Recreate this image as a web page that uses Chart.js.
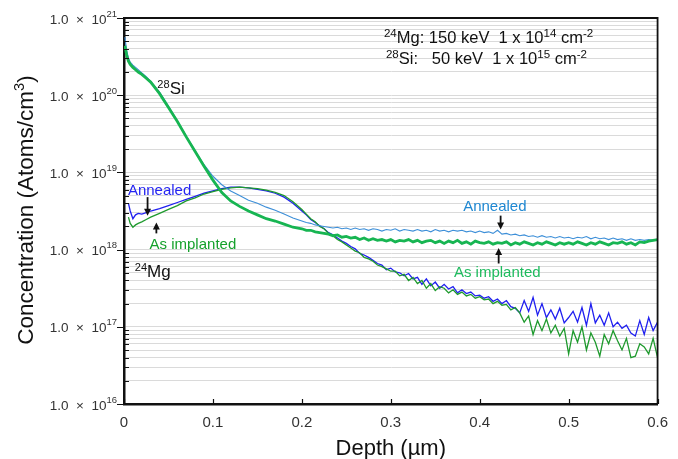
<!DOCTYPE html>
<html>
<head>
<meta charset="utf-8">
<script src="https://cdn.jsdelivr.net/npm/chart.js@4.4.1/dist/chart.umd.min.js"></script>
<style>
  body { margin: 0; background: #fff; }
  canvas { display: block; }
</style>
</head>
<body>
<canvas id="sims" width="678" height="459"></canvas>
<script>
// depth (um)
var depth = [0.001, 0.003, 0.005, 0.007, 0.010, 0.013, 0.016, 0.020, 0.025,
  0.03, 0.04, 0.05, 0.06, 0.07, 0.08, 0.09, 0.10, 0.11, 0.12, 0.13, 0.14, 0.15, 0.16, 0.17, 0.18, 0.19, 0.20,
  0.205, 0.21, 0.215, 0.22, 0.225, 0.23, 0.235, 0.24, 0.245, 0.25,
  0.255, 0.26, 0.265, 0.27, 0.275, 0.28, 0.285, 0.29, 0.295, 0.30,
  0.305, 0.31, 0.315, 0.32, 0.325, 0.33, 0.335, 0.34, 0.345, 0.35,
  0.355, 0.36, 0.365, 0.37, 0.375, 0.38, 0.385, 0.39, 0.395, 0.40,
  0.405, 0.41, 0.415, 0.42, 0.425, 0.43, 0.435, 0.44, 0.445, 0.45,
  0.455, 0.46, 0.465, 0.47, 0.475, 0.48, 0.485, 0.49, 0.495, 0.50,
  0.505, 0.51, 0.515, 0.52, 0.525, 0.53, 0.535, 0.54, 0.545, 0.55,
  0.555, 0.56, 0.565, 0.57, 0.575, 0.58, 0.585, 0.59, 0.595, 0.60];

// log10 of concentration (atoms/cm3)
var siImplLog = [20.64, 20.52, 20.44, 20.40, 20.36, 20.33, 20.30, 20.27, 20.22,
  20.17, 20.02, 19.84, 19.66, 19.46, 19.27, 19.08, 18.90, 18.74, 18.63, 18.56, 18.50, 18.45, 18.40, 18.37, 18.33, 18.29, 18.27,
  18.25, 18.25, 18.23, 18.22, 18.21, 18.20, 18.18, 18.19, 18.16, 18.17,
  18.15, 18.16, 18.13, 18.15, 18.12, 18.14, 18.12, 18.13, 18.11, 18.13,
  18.10, 18.12, 18.11, 18.13, 18.10, 18.12, 18.09, 18.11, 18.12, 18.09,
  18.11, 18.08, 18.11, 18.09, 18.12, 18.08, 18.10, 18.07, 18.11, 18.09,
  18.08, 18.10, 18.07, 18.09, 18.08, 18.10, 18.06, 18.09, 18.07, 18.10,
  18.08, 18.06, 18.09, 18.07, 18.10, 18.08, 18.06, 18.09, 18.07, 18.09,
  18.07, 18.10, 18.08, 18.06, 18.09, 18.07, 18.10, 18.08, 18.06, 18.09,
  18.08, 18.10, 18.07, 18.09, 18.06, 18.10, 18.09, 18.11, 18.12, 18.13];

var siAnnLog = [20.75, 20.58, 20.48, 20.43, 20.39, 20.36, 20.33, 20.29, 20.24,
  20.18, 20.04, 19.86, 19.67, 19.47, 19.28, 19.10, 18.95, 18.84, 18.76, 18.70, 18.64, 18.60, 18.55, 18.51, 18.46, 18.41, 18.37,
  18.35, 18.34, 18.32, 18.31, 18.30, 18.29, 18.28, 18.29, 18.27, 18.28,
  18.26, 18.28, 18.26, 18.27, 18.25, 18.27, 18.26, 18.24, 18.26, 18.25,
  18.27, 18.24, 18.26, 18.25, 18.24, 18.26, 18.24, 18.25, 18.23, 18.26,
  18.24, 18.25, 18.23, 18.25, 18.24, 18.25, 18.23, 18.24, 18.22, 18.24,
  18.22, 18.23, 18.21, 18.25, 18.20, 18.21, 18.19, 18.20, 18.18, 18.19,
  18.17, 18.18, 18.16, 18.18, 18.16, 18.17, 18.15, 18.17, 18.15, 18.16,
  18.14, 18.16, 18.15, 18.17, 18.14, 18.16, 18.14, 18.15, 18.13, 18.15,
  18.13, 18.14, 18.12, 18.14, 18.12, 18.13, 18.12, 18.13, 18.12, 18.13];

var mgAnnLog = [null, null, 18.60, 18.50, 18.40, 18.45, 18.47, 18.46, 18.48,
  18.50, 18.53, 18.57, 18.61, 18.65, 18.69, 18.73, 18.76, 18.79, 18.81, 18.81, 18.80, 18.78, 18.76, 18.73, 18.68, 18.60, 18.50,
  18.45, 18.39, 18.35, 18.31, 18.27, 18.22, 18.19, 18.15, 18.11, 18.08,
  18.04, 18.01, 17.95, 17.93, 17.90, 17.86, 17.82, 17.80, 17.74, 17.76,
  17.71, 17.70, 17.66, 17.69, 17.62, 17.64, 17.55, 17.62, 17.53, 17.58,
  17.50, 17.55, 17.49, 17.52, 17.44, 17.48, 17.43, 17.45, 17.40, 17.41,
  17.37, 17.39, 17.33, 17.36, 17.30, 17.34, 17.26, 17.24, 17.18, 17.34,
  17.20, 17.38, 17.15, 17.30, 17.12, 17.22, 17.10, 17.24, 17.05, 17.12,
  17.20, 17.06, 17.25, 17.02, 17.30, 17.05, 17.15, 17.02, 17.18, 17.00,
  17.06, 16.98, 17.02, 16.92, 16.88, 17.08, 16.90, 17.12, 16.95, 17.06];

var mgImplLog = [null, null, 18.42, 18.34, 18.29, 18.32, 18.34, 18.36, 18.39,
  18.42, 18.47, 18.52, 18.57, 18.63, 18.67, 18.72, 18.75, 18.78, 18.80, 18.81, 18.80, 18.79, 18.77, 18.74, 18.70, 18.62, 18.52,
  18.46, 18.40, 18.36, 18.30, 18.27, 18.21, 18.18, 18.13, 18.10, 18.06,
  18.02, 17.98, 17.96, 17.90, 17.88, 17.85, 17.80, 17.78, 17.75, 17.72,
  17.72, 17.66, 17.68, 17.60, 17.64, 17.56, 17.60, 17.50, 17.56, 17.47,
  17.52, 17.50, 17.44, 17.48, 17.42, 17.45, 17.40, 17.42, 17.37, 17.39,
  17.35, 17.36, 17.30, 17.33, 17.28, 17.29, 17.22, 17.25, 17.18, 17.06,
  17.14, 16.90, 17.08, 16.95, 17.10, 16.92, 17.02, 16.88, 16.98, 16.65,
  16.95, 16.80, 17.00, 16.70, 16.92, 16.80, 16.62, 16.90, 16.78, 16.95,
  16.82, 16.70, 16.85, 16.60, 16.62, 16.78, 16.74, 16.65, 16.85, 16.60];

// axis ticks
var yDecades = [16, 17, 18, 19, 20, 21];
var yMinors = [2, 3, 4, 5, 6, 7, 8, 9];
var xTicks = [0, 0.1, 0.2, 0.3, 0.4, 0.5, 0.6];

var FONT = "'Liberation Sans', Arial, sans-serif";

var yGrid = [];
yDecades.forEach(function(d) {
  yGrid.push({ value: Math.pow(10, d), major: true });
  if (d < 21) {
    yMinors.forEach(function(m) { yGrid.push({ value: m * Math.pow(10, d), major: false }); });
  }
});

function toPoints(logs) {
  return depth.map(function(d, i) {
    return { x: d, y: logs[i] == null ? null : Math.pow(10, logs[i]) };
  });
}

// text with superscript parts: [[text, isSup], ...]
function richWidth(ctx, parts, size, supRatio) {
  var w = 0;
  parts.forEach(function(p) {
    ctx.font = (p[1] ? size * supRatio : size) + 'px ' + FONT;
    w += ctx.measureText(p[0]).width;
  });
  return w;
}
function drawRich(ctx, parts, x, y, size, color, align, supRatio) {
  supRatio = supRatio || 0.65;
  var w = richWidth(ctx, parts, size, supRatio);
  var cx = align === 'center' ? x - w / 2 : (align === 'right' ? x - w : x);
  ctx.fillStyle = color;
  ctx.textAlign = 'left';
  ctx.textBaseline = 'alphabetic';
  parts.forEach(function(p) {
    var s = p[1] ? size * supRatio : size;
    ctx.font = s + 'px ' + FONT;
    ctx.fillText(p[0], cx, p[1] ? y - size * 0.38 : y);
    cx += ctx.measureText(p[0]).width;
  });
}

// annotations in data units (x in um, y as log10)
var labels = [
  { parts: [['Annealed', false]], x: 0.0044, y: 18.78, color: '#2525f2', align: 'left', size: 15, mid: true },
  { parts: [['As implanted', false]], x: 0.0287, y: 18.08, color: '#16a12c', align: 'left', size: 15, mid: true },
  { parts: [['Annealed', false]], x: 0.417, y: 18.57, color: '#1f88d2', align: 'center', size: 15, mid: true },
  { parts: [['As implanted', false]], x: 0.4197, y: 17.72, color: '#1ebb5e', align: 'center', size: 15, mid: true },
  { parts: [['28', true], ['Si', false]], x: 0.0375, y: 20.01, color: '#111', align: 'left', size: 17 },
  { parts: [['24', true], ['Mg', false]], x: 0.0121, y: 17.64, color: '#111', align: 'left', size: 17 },
  { parts: [['24', true], ['Mg: 150 keV  1 x 10', false], ['14', true], [' cm', false], ['-2', true]], x: 0.2923, y: 20.67, color: '#111', align: 'left', size: 16.5, sup: 0.7 },
  { parts: [['28', true], ['Si:   50 keV  1 x 10', false], ['15', true], [' cm', false], ['-2', true]], x: 0.2945, y: 20.40, color: '#111', align: 'left', size: 16.5, sup: 0.7 }
];
var arrows = [
  { x: 0.0265, from: 18.68, to: 18.44 },
  { x: 0.0364, from: 18.21, to: 18.35 },
  { x: 0.4235, from: 18.44, to: 18.26 },
  { x: 0.4213, from: 17.82, to: 18.02 }
];

var framePlugin = {
  id: 'frame',
  afterDraw: function(chart) {
    var ctx = chart.ctx, a = chart.chartArea;
    var xs = chart.scales.x, ys = chart.scales.y;
    ctx.save();

    // top and right frame
    ctx.strokeStyle = '#111';
    ctx.lineWidth = 1.8;
    ctx.beginPath();
    ctx.moveTo(a.left, a.top);
    ctx.lineTo(a.right, a.top);
    ctx.lineTo(a.right, a.bottom);
    ctx.stroke();

    // y ticks: majors out, minors in
    ctx.lineWidth = 1.2;
    ctx.beginPath();
    yGrid.forEach(function(t) {
      var py = Math.round(ys.getPixelForValue(t.value)) + 0.5;
      if (t.major) { ctx.moveTo(a.left, py); ctx.lineTo(a.left - 7, py); }
      else { ctx.moveTo(a.left, py); ctx.lineTo(a.left + 5, py); }
    });
    // x ticks inward
    xTicks.forEach(function(v) {
      var px = Math.round(xs.getPixelForValue(v)) + 0.5;
      ctx.moveTo(px, a.bottom);
      ctx.lineTo(px, a.bottom - 5);
    });
    ctx.stroke();

    // y tick labels 1.0 x 10^n
    yDecades.forEach(function(d) {
      var py = ys.getPixelForValue(Math.pow(10, d));
      ctx.font = '9.5px ' + FONT;
      var supW = ctx.measureText(String(d)).width;
      var supX = a.left - 7 - supW;
      ctx.fillStyle = '#333';
      ctx.textAlign = 'left';
      ctx.textBaseline = 'alphabetic';
      ctx.fillText(String(d), supX, py - 1.5);
      ctx.font = '13.5px ' + FONT;
      ctx.textAlign = 'right';
      ctx.fillText('1.0  \u00d7  10', supX, py + 5.5);
    });

    // axis titles
    drawRich(ctx, [['Depth (\u00b5m)', false]], (a.left + a.right) / 2, 455, 22, '#111', 'center');
    ctx.save();
    ctx.translate(33, 210);
    ctx.rotate(-Math.PI / 2);
    drawRich(ctx, [['Concentration (Atoms/cm', false], ['3', true], [')', false]], 0, 0, 22.5, '#111', 'center');
    ctx.restore();

    // labels
    labels.forEach(function(l) {
      var px = xs.getPixelForValue(l.x);
      var py = ys.getPixelForValue(Math.pow(10, l.y));
      if (l.mid) py += l.size * 0.36;
      drawRich(ctx, l.parts, px, py, l.size, l.color, l.align, l.sup);
    });

    // arrows
    ctx.strokeStyle = '#111';
    ctx.fillStyle = '#111';
    ctx.lineWidth = 1.8;
    arrows.forEach(function(ar) {
      var px = xs.getPixelForValue(ar.x);
      var y0 = ys.getPixelForValue(Math.pow(10, ar.from));
      var y1 = ys.getPixelForValue(Math.pow(10, ar.to));
      var dir = y1 > y0 ? 1 : -1;
      ctx.beginPath();
      ctx.moveTo(px, y0);
      ctx.lineTo(px, y1 - dir * 5);
      ctx.stroke();
      ctx.beginPath();
      ctx.moveTo(px, y1);
      ctx.lineTo(px - 3.5, y1 - dir * 7);
      ctx.lineTo(px + 3.5, y1 - dir * 7);
      ctx.closePath();
      ctx.fill();
    });

    ctx.restore();
  }
};

var ctx = document.getElementById('sims').getContext('2d');
new Chart(ctx, {
  type: 'line',
  data: {
    datasets: [
      { label: 'Si as implanted', data: toPoints(siImplLog), borderColor: '#17b552', borderWidth: 2.8 },
      { label: 'Si annealed', data: toPoints(siAnnLog), borderColor: '#3d8fd8', borderWidth: 1.1 },
      { label: 'Mg as implanted', data: toPoints(mgImplLog), borderColor: '#1f9a2e', borderWidth: 1.3 },
      { label: 'Mg annealed', data: toPoints(mgAnnLog), borderColor: '#2020f0', borderWidth: 1.3 }
    ]
  },
  options: {
    responsive: false,
    animation: false,
    spanGaps: false,
    elements: { point: { radius: 0 }, line: { tension: 0 } },
    layout: { padding: { top: 18, right: 10, left: 0, bottom: 0 } },
    plugins: { legend: { display: false }, tooltip: { enabled: false } },
    scales: {
      x: {
        type: 'linear', min: 0, max: 0.6,
        afterFit: function(s) { s.height = 55; },
        grid: { display: false, drawTicks: false },
        border: { color: '#111', width: 2.5 },
        ticks: {
          stepSize: 0.1, padding: 10, color: '#333',
          font: { family: FONT, size: 15 },
          callback: function(v) { return v === 0 ? '0' : v.toFixed(1); }
        }
      },
      y: {
        type: 'logarithmic', min: 1e16, max: 1e21,
        afterFit: function(s) { s.width = 124; },
        afterBuildTicks: function(s) { s.ticks = yGrid.map(function(t) { return { value: t.value }; }); },
        grid: { color: '#dadada', lineWidth: 1, drawTicks: false },
        border: { color: '#111', width: 2.5 },
        ticks: { display: false }
      }
    }
  },
  plugins: [framePlugin]
});
</script>
</body>
</html>
